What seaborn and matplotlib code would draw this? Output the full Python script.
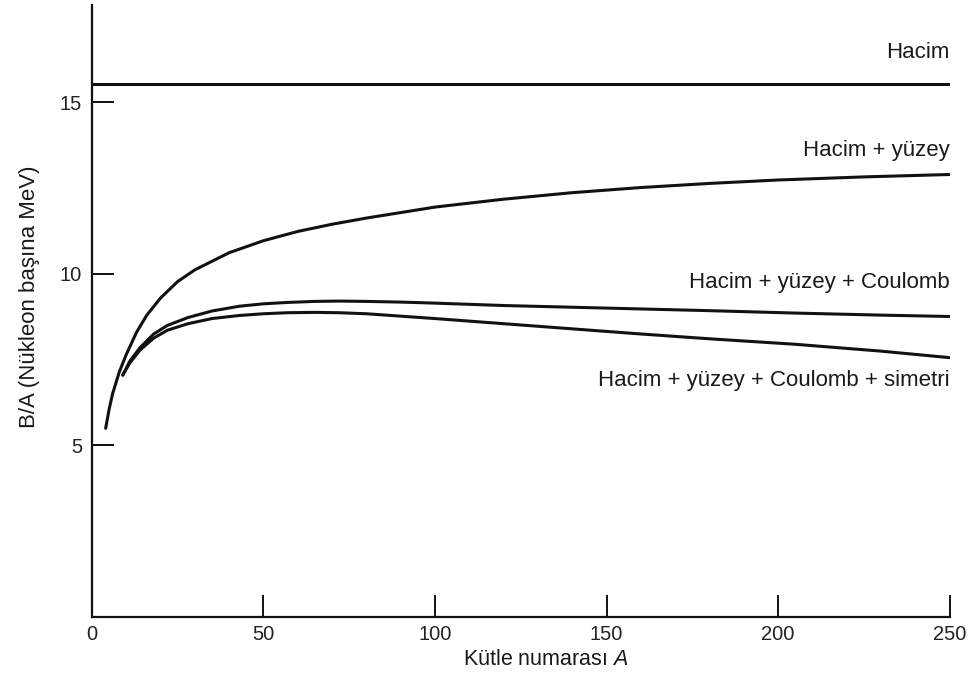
import matplotlib
matplotlib.use("Agg")
import matplotlib.pyplot as plt
import seaborn as sns
import pandas as pd

# Binding energy per nucleon contributions (semi-empirical mass formula terms)
A_hacim = [0, 50, 100, 150, 200, 250]
B_hacim = [15.55, 15.55, 15.55, 15.55, 15.55, 15.55]

A_yuzey = [4, 5, 6, 8, 10, 13, 16, 20, 25, 30, 40, 50, 60, 70, 80,
           100, 120, 140, 160, 180, 200, 225, 250]
B_yuzey = [5.5, 6.05, 6.5, 7.15, 7.65, 8.3, 8.8, 9.3, 9.78, 10.12, 10.62, 10.97,
           11.24, 11.45, 11.63, 11.95, 12.18, 12.37, 12.52, 12.64, 12.74, 12.83, 12.9]

A_coulomb = [9, 11, 14, 18, 22, 28, 35, 43, 50, 57, 65, 72, 80, 90, 100,
             120, 140, 160, 180, 205, 230, 250]
B_coulomb = [7.05, 7.45, 7.85, 8.25, 8.5, 8.73, 8.92, 9.06, 9.13, 9.17, 9.2,
             9.21, 9.2, 9.18, 9.15, 9.08, 9.03, 8.98, 8.93, 8.86, 8.8, 8.76]

A_simetri = [9, 11, 14, 18, 22, 28, 35, 43, 50, 57, 65, 72, 80, 90, 100,
             120, 140, 160, 180, 205, 230, 250]
B_simetri = [7.05, 7.4, 7.78, 8.13, 8.36, 8.55, 8.7, 8.79, 8.84, 8.87, 8.88,
             8.87, 8.84, 8.77, 8.7, 8.55, 8.4, 8.25, 8.11, 7.95, 7.75, 7.56]

labels = ["Hacim", "Hacim + yüzey", "Hacim + yüzey + Coulomb",
          "Hacim + yüzey + Coulomb + simetri"]
label_y = [16.45, 13.6, 9.75, 6.9]

x_ticks = [0, 50, 100, 150, 200, 250]
y_ticks = [5, 10, 15]

sns.set_theme(style="ticks")
plt.rcParams["font.family"] = ["Liberation Sans", "DejaVu Sans"]
plt.rcParams["mathtext.fontset"] = "custom"
plt.rcParams["mathtext.rm"] = "Liberation Sans"
plt.rcParams["mathtext.it"] = "Liberation Sans:italic"

ink = "#111111"
fig = plt.figure(figsize=(9.78, 6.75), dpi=100)
ax = fig.add_axes([0.094, 0.086, 0.877, 0.907])

series = [(A_hacim, B_hacim), (A_yuzey, B_yuzey),
          (A_coulomb, B_coulomb), (A_simetri, B_simetri)]
for (xa, yb) in series:
    df = pd.DataFrame({"A": xa, "B": yb})
    sns.lineplot(data=df, x="A", y="B", ax=ax, color=ink, linewidth=2.2,
                 estimator=None, sort=False)

for text, yy in zip(labels, label_y):
    ax.text(250, yy, text, ha="right", va="center", fontsize=16, color="#1a1a1a")

ax.set_xlim(0, 250)
ax.set_ylim(0, 17.85)
ax.set_xticks(x_ticks)
ax.set_yticks(y_ticks)
ax.tick_params(axis="both", direction="in", length=16, width=1.4,
               colors=ink, labelsize=14.5)
ax.tick_params(axis="x", pad=6)
ax.tick_params(axis="y", pad=7)
ax.tick_params(axis="both", labelcolor="#222222")

for side in ["top", "right"]:
    ax.spines[side].set_visible(False)
for side in ["left", "bottom"]:
    ax.spines[side].set_linewidth(1.6)
    ax.spines[side].set_color(ink)

ax.set_xlabel("Kütle numarası $A$", fontsize=15.5, color="#1a1a1a")
ax.set_ylabel("B/A (Nükleon başına MeV)", fontsize=16, color="#1a1a1a")
ax.xaxis.set_label_coords(0.529, -0.052)
ax.yaxis.set_label_coords(-0.061, 0.523)

fig.savefig("out.png", dpi=100, facecolor="white")
